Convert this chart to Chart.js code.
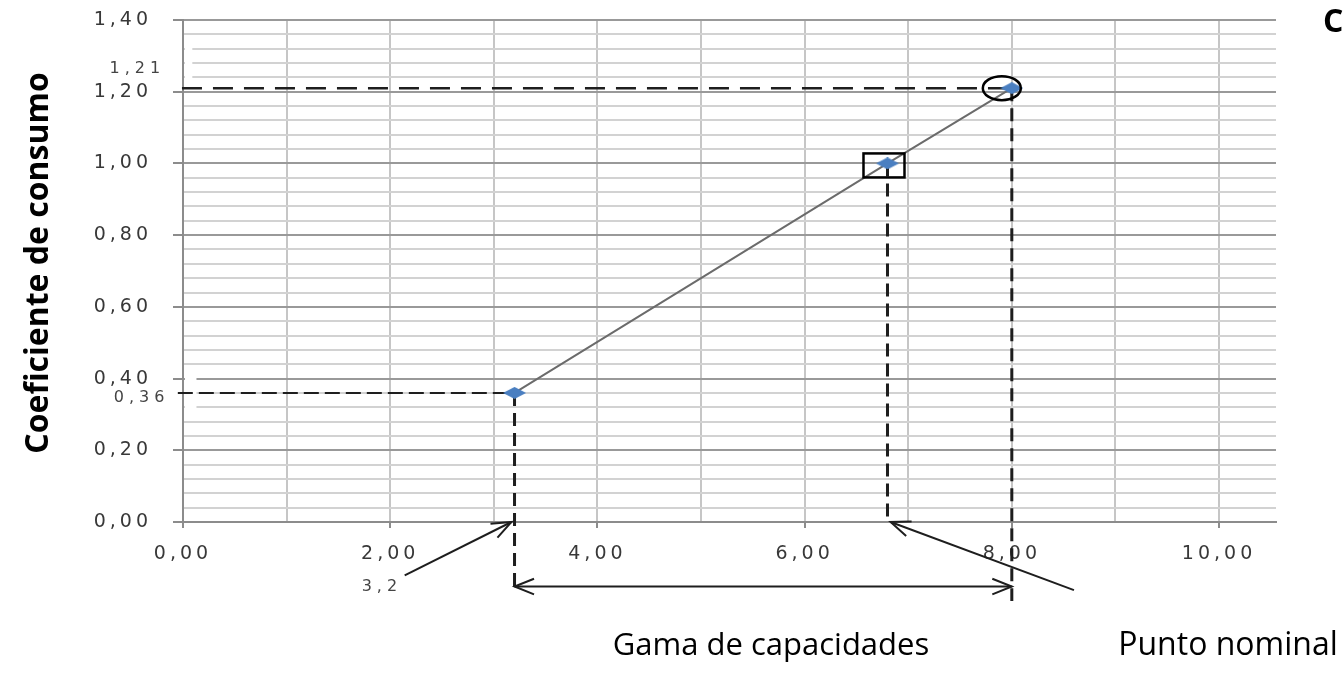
<!DOCTYPE html>
<html lang="es">
<head>
<meta charset="utf-8">
<title>Coeficiente de consumo</title>
<script src="https://cdn.jsdelivr.net/npm/chart.js@4.4.1/dist/chart.umd.min.js"></script>
<style>
  html, body { margin: 0; padding: 0; background: #fff; }
  canvas { display: block; }
</style>
</head>
<body>
<canvas id="grafico" width="1344" height="676"></canvas>
<script>
// ---- DATOS ----
const capacidad = [3.2, 6.8, 8.0];
const coeficiente = [0.36, 1.00, 1.21];
const xEtiquetas = [0, 2, 4, 6, 8, 10];
const yEtiquetas = [0, 0.2, 0.4, 0.6, 0.8, 1.0, 1.2, 1.4];

const coma = (v, d) => v.toFixed(d).replace('.', ',');
const esEtiqueta = (lista, v) => lista.some(e => Math.abs(e - v) < 1e-6);
const TINTA = '#1e1e1e';

// rombo azul aplastado, como el marcador de Excel estirado
function rombo(w, h, color) {
  const c = document.createElement('canvas');
  c.width = w; c.height = h;
  const g = c.getContext('2d');
  g.fillStyle = color;
  g.beginPath();
  g.moveTo(w / 2, 0); g.lineTo(w, h / 2); g.lineTo(w / 2, h); g.lineTo(0, h / 2);
  g.closePath();
  g.fill();
  return c;
}

function linea(ctx, x1, y1, x2, y2, dash, ancho) {
  ctx.save();
  ctx.strokeStyle = TINTA;
  ctx.lineWidth = ancho;
  ctx.setLineDash(dash);
  ctx.beginPath();
  ctx.moveTo(x1, y1);
  ctx.lineTo(x2, y2);
  ctx.stroke();
  ctx.restore();
}

function punta(ctx, x1, y1, x2, y2) {
  const a = Math.atan2(y2 - y1, x2 - x1), l = 21, ab = 0.38;
  ctx.beginPath();
  ctx.moveTo(x2 - l * Math.cos(a - ab), y2 - l * Math.sin(a - ab));
  ctx.lineTo(x2, y2);
  ctx.lineTo(x2 - l * Math.cos(a + ab), y2 - l * Math.sin(a + ab));
  ctx.stroke();
}

function flecha(ctx, x1, y1, x2, y2, doble) {
  ctx.save();
  ctx.strokeStyle = TINTA;
  ctx.lineWidth = 2;
  ctx.beginPath();
  ctx.moveTo(x1, y1);
  ctx.lineTo(x2, y2);
  ctx.stroke();
  punta(ctx, x1, y1, x2, y2);
  if (doble) punta(ctx, x2, y2, x1, y1);
  ctx.restore();
}

function texto(ctx, t, x, y, font, align, espacio) {
  ctx.save();
  ctx.font = font;
  ctx.fillStyle = '#000';
  ctx.textAlign = align;
  ctx.textBaseline = 'alphabetic';
  ctx.letterSpacing = espacio || '0px';
  ctx.fillText(t, x, y);
  ctx.restore();
}

// ---- ANOTACIONES ----
const anotaciones = {
  id: 'anotaciones',
  beforeDraw(chart) {
    // las etiquetas del original salen muy anchas
    chart.ctx.letterSpacing = '4px';
  },
  beforeDatasetsDraw(chart) {
    const ctx = chart.ctx;
    ctx.letterSpacing = '0px';
    const X = v => chart.scales.x.getPixelForValue(v);
    const Y = v => chart.scales.y.getPixelForValue(v);

    // cuadros de texto blancos sobre la rejilla
    ctx.save();
    ctx.fillStyle = '#fff';
    ctx.fillRect(X(0) + 2, Y(1.34), X(0.09) - X(0) - 2, Y(1.23) - Y(1.34));
    ctx.fillRect(X(0) + 2, Y(0.42), X(0.13) - X(0) - 2, Y(0.305) - Y(0.42));
    ctx.restore();

    const [xMin, xMed, xNom] = capacidad;
    const [yMin, yMed, yNom] = coeficiente;
    linea(ctx, X(-0.01), Y(yNom), X(xNom), Y(yNom), [20, 11], 2.5);
    linea(ctx, X(xNom), Y(yNom), X(xNom), Y(-0.22), [13, 7], 3);
    linea(ctx, X(-0.05), Y(yMin), X(xMin), Y(yMin), [15, 6], 2);
    linea(ctx, X(xMin), Y(yMin), X(xMin), Y(-0.19), [13, 7], 3);
    linea(ctx, X(xMed), Y(yMed), X(xMed), Y(0), [13, 7], 3);
  },
  afterDraw(chart) {
    const ctx = chart.ctx;
    ctx.letterSpacing = '0px';
    const X = v => chart.scales.x.getPixelForValue(v);
    const Y = v => chart.scales.y.getPixelForValue(v);
    const [xMin, xMed, xNom] = capacidad;
    const [yMin, yMed, yNom] = coeficiente;

    ctx.save();
    ctx.strokeStyle = '#000';
    ctx.lineWidth = 2.5;
    // círculo en el punto nominal
    ctx.beginPath();
    ctx.ellipse(X(xNom) - 10, Y(yNom), 19, 12, 0, 0, Math.PI * 2);
    ctx.stroke();
    // cuadro en el punto intermedio
    ctx.strokeRect(X(xMed) - 24, Y(yMed) - 10, 41, 24);
    ctx.restore();

    flecha(ctx, X(xMin), Y(-0.18), X(xNom), Y(-0.18), true);
    flecha(ctx, X(2.14), Y(-0.149), X(xMin - 0.03), Y(0), false);
    flecha(ctx, X(8.6), Y(-0.19), X(xMed + 0.03), Y(0), false);

    ctx.save();
    ctx.fillStyle = '#444';
    ctx.font = '16px "DejaVu Sans"';
    ctx.letterSpacing = '5px';
    ctx.textAlign = 'center';
    ctx.textBaseline = 'middle';
    ctx.fillText(coma(yNom, 2), X(-0.44), Y(1.265));
    ctx.fillText(coma(yMin, 2), X(-0.40), Y(0.345));
    ctx.fillText(coma(xMin, 1), X(1.92), Y(-0.18));
    ctx.restore();

    // título del eje vertical
    ctx.save();
    ctx.translate(48, (chart.chartArea.top + chart.chartArea.bottom) / 2 - 8);
    ctx.rotate(-Math.PI / 2);
    texto(ctx, 'Coeficiente de consumo', 0, 0, 'bold 32px "Open Sans"', 'center');
    ctx.restore();

    texto(ctx, 'Gama de capacidades', 771, 655, '31px "Open Sans"', 'center');
    texto(ctx, 'Punto nominal', 1228, 655, '32px "Open Sans"', 'center');
    texto(ctx, 'C', 1323, 32, 'bold 32px "Open Sans"', 'left');
  }
};

// ---- GRÁFICO ----
const chart = new Chart(document.getElementById('grafico'), {
  type: 'scatter',
  data: {
    datasets: [{
      data: capacidad.map((x, i) => ({ x, y: coeficiente[i] })),
      showLine: true,
      borderColor: '#6b6b6b',
      borderWidth: 2,
      pointStyle: rombo(23, 12, '#4a7fc1'),
      pointRadius: 7,
    }]
  },
  options: {
    responsive: false,
    animation: false,
    devicePixelRatio: 1,
    layout: { padding: { top: 20, right: 68, bottom: 0, left: 0 } },
    plugins: { legend: { display: false }, tooltip: { enabled: false } },
    scales: {
      x: {
        type: 'linear',
        min: 0,
        max: 10.55,
        // rejilla cada unidad hasta 10; el área sigue un poco más allá
        afterBuildTicks: s => { s.ticks = Array.from({ length: 11 }, (_, i) => ({ value: i })); },
        afterFit: s => { s.height = 154; },
        ticks: {
          autoSkip: false, maxRotation: 0, padding: 15,
          color: '#383838', font: { family: 'DejaVu Sans', size: 19 },
          callback: v => esEtiqueta(xEtiquetas, v) ? coma(v, 2) : ''
        },
        grid: {
          color: '#c6c6c6', lineWidth: 2, tickLength: 6,
          tickColor: c => c.tick && esEtiqueta(xEtiquetas, c.tick.value) ? '#8c8c8c' : 'rgba(0,0,0,0)'
        },
        border: { color: '#8c8c8c', width: 2 }
      },
      y: {
        min: 0,
        max: 1.4,
        // sin el relleno extra que Chart.js añade arriba por la separación de etiquetas
        afterFit: s => { s.width = 183; s.paddingTop = 0; s.paddingBottom = 0; },
        ticks: {
          stepSize: 0.04, autoSkip: false, padding: 21,
          color: '#383838', font: { family: 'DejaVu Sans', size: 19 },
          callback: v => esEtiqueta(yEtiquetas, v) ? coma(v, 2) : ''
        },
        grid: {
          color: c => c.tick && esEtiqueta(yEtiquetas, c.tick.value) ? '#999999' : '#d2d2d2',
          lineWidth: 2, tickLength: 10,
          tickColor: c => c.tick && esEtiqueta(yEtiquetas, c.tick.value) ? '#8c8c8c' : 'rgba(0,0,0,0)'
        },
        border: { color: '#8c8c8c', width: 2 }
      }
    }
  },
  plugins: [anotaciones]
});
</script>
</body>
</html>
